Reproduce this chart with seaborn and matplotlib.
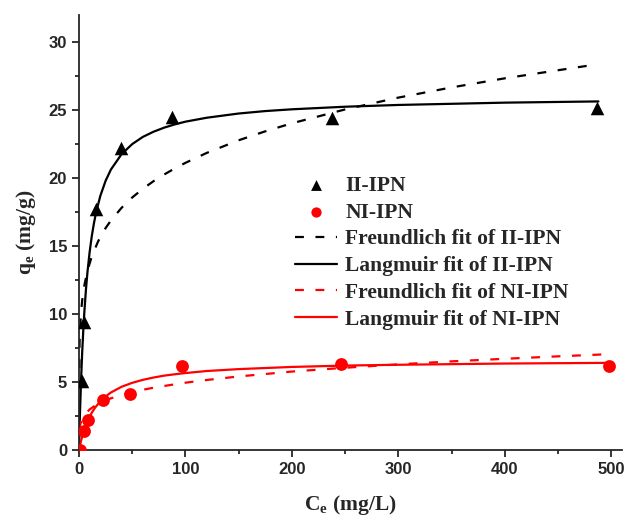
import matplotlib
matplotlib.use("Agg")
import matplotlib.pyplot as plt
import seaborn as sns

# measured points
ii_ce = [2.8, 4.7, 16, 39, 87, 238, 487]
ii_qe = [5.1, 9.4, 17.7, 22.2, 24.5, 24.4, 25.2]
ni_ce = [0.5, 5, 8.8, 22.8, 47.9, 96.7, 246.6, 498]
ni_qe = [0.0, 1.4, 2.2, 3.67, 4.1, 6.15, 6.3, 6.15]

# fitted curves
ii_fr_ce = [0, 0.5, 1, 2, 3, 5, 8, 12, 18, 25, 30, 40, 50, 60, 70, 80, 90, 100, 120, 150,
            175, 200, 250, 300, 350, 400, 480]
ii_fr_qe = [0, 7.88, 8.97, 10.21, 11.0, 12.1, 13.21, 14.24, 15.36, 16.33, 16.89, 17.82,
            18.58, 19.22, 19.78, 20.27, 20.72, 21.13, 21.86, 22.79, 23.45, 24.04, 25.06,
            25.93, 26.68, 27.35, 28.30]
ii_la_ce = [0, 1, 2, 3, 4, 5, 6.5, 8, 10, 12, 14, 16, 20, 25, 30, 40, 50, 60, 70, 80, 90,
            100, 120, 150, 175, 200, 250, 300, 400, 488]
ii_la_qe = [0, 2.93, 5.28, 7.19, 8.77, 10.12, 11.78, 13.13, 14.57, 15.73, 16.67, 17.46,
            18.69, 19.81, 20.64, 21.77, 22.51, 23.04, 23.42, 23.72, 23.96, 24.16, 24.45,
            24.76, 24.94, 25.07, 25.26, 25.39, 25.56, 25.65]
ni_fr_ce = [0, 0.5, 1, 2, 4, 6, 10, 15, 20, 25, 30, 40, 50, 60, 70, 80, 100, 120, 150, 200,
            250, 300, 350, 400, 450, 492]
ni_fr_qe = [0, 1.55, 1.80, 2.10, 2.44, 2.67, 2.98, 3.26, 3.48, 3.65, 3.80, 4.05, 4.25, 4.43,
            4.58, 4.71, 4.95, 5.15, 5.41, 5.77, 6.05, 6.30, 6.52, 6.71, 6.89, 7.03]
ni_la_ce = [0, 1, 2, 4, 6, 8, 10, 12, 15, 20, 25, 30, 40, 50, 60, 70, 80, 90, 100, 120, 150,
            200, 250, 300, 400, 497]
ni_la_qe = [0, 0.367, 0.696, 1.26, 1.73, 2.12, 2.45, 2.74, 3.10, 3.58, 3.94, 4.23, 4.65,
            4.94, 5.16, 5.33, 5.47, 5.57, 5.66, 5.81, 5.95, 6.11, 6.21, 6.27, 6.36, 6.41]

sns.set_style("ticks")
plt.rcParams["font.family"] = ["Liberation Sans", "DejaVu Sans"]
plt.rcParams["mathtext.fontset"] = "custom"
plt.rcParams["mathtext.rm"] = "Liberation Serif:bold"
plt.rcParams["mathtext.bf"] = "Liberation Serif:bold"
plt.rcParams["mathtext.it"] = "Liberation Serif:bold"
for a in ["x", "y"]:
    plt.rcParams[a + "tick.major.size"] = 5
    plt.rcParams[a + "tick.minor.size"] = 3
    plt.rcParams[a + "tick.major.width"] = 1.3
    plt.rcParams[a + "tick.minor.width"] = 1.3

fig = plt.figure(figsize=(6.3, 5.22), dpi=100)
ax = fig.add_axes([0.1254, 0.138, 0.8616, 0.833])

lw = 1.6
dash = (4, 5.2)
sns.lineplot(x=ii_fr_ce, y=ii_fr_qe, ax=ax, color="black", lw=lw,
             label="Freundlich fit of II-IPN", sort=False)
ax.lines[-1].set_dashes(dash)
sns.lineplot(x=ii_la_ce, y=ii_la_qe, ax=ax, color="black", lw=lw,
             label="Langmuir fit of II-IPN", sort=False)
sns.lineplot(x=ni_fr_ce, y=ni_fr_qe, ax=ax, color="red", lw=lw,
             label="Freundlich fit of NI-IPN", sort=False)
ax.lines[-1].set_dashes(dash)
sns.lineplot(x=ni_la_ce, y=ni_la_qe, ax=ax, color="red", lw=lw,
             label="Langmuir fit of NI-IPN", sort=False)
sns.scatterplot(x=ii_ce, y=ii_qe, ax=ax, marker="^", color="black", s=95,
                linewidth=0, label="II-IPN", zorder=5)
sns.scatterplot(x=ni_ce, y=ni_qe, ax=ax, marker="o", color="red", s=85,
                linewidth=0, label="NI-IPN", zorder=5)

ax.set_xlim(0, 510)
ax.set_ylim(0, 32)
ax.set_xticks([0, 100, 200, 300, 400, 500])
ax.set_xticks(range(50, 500, 100), minor=True)
ax.set_yticks([0, 5, 10, 15, 20, 25, 30])
ax.set_yticks([2.5, 7.5, 12.5, 17.5, 22.5, 27.5], minor=True)
for lab in ax.get_xticklabels() + ax.get_yticklabels():
    lab.set_fontweight("bold")
    lab.set_fontsize(12)
sns.despine(ax=ax)
for s in ["left", "bottom"]:
    ax.spines[s].set_linewidth(1.3)

serif = {"family": ["Liberation Serif", "DejaVu Serif"], "weight": "bold", "size": 15.5}
ax.set_xlabel("C$_\\mathbf{e}$ (mg/L)", fontdict=serif, labelpad=12)
ax.set_ylabel("q$_\\mathbf{e}$ (mg/g)", fontdict=serif, labelpad=8)

h, l = ax.get_legend_handles_labels()
order = [l.index(n) for n in ["II-IPN", "NI-IPN", "Freundlich fit of II-IPN", "Langmuir fit of II-IPN",
                               "Freundlich fit of NI-IPN", "Langmuir fit of NI-IPN"]]
ax.legend([h[i] for i in order], [l[i] for i in order], loc="upper left",
          bbox_to_anchor=(0.379, 0.655), frameon=False, borderpad=0, handlelength=1.95,
          handletextpad=0.37, labelspacing=0.31, markerscale=0.8,
          prop={"family": ["Liberation Serif", "DejaVu Serif"], "weight": "bold", "size": 15.5})

fig.savefig("out.png", dpi=100)
